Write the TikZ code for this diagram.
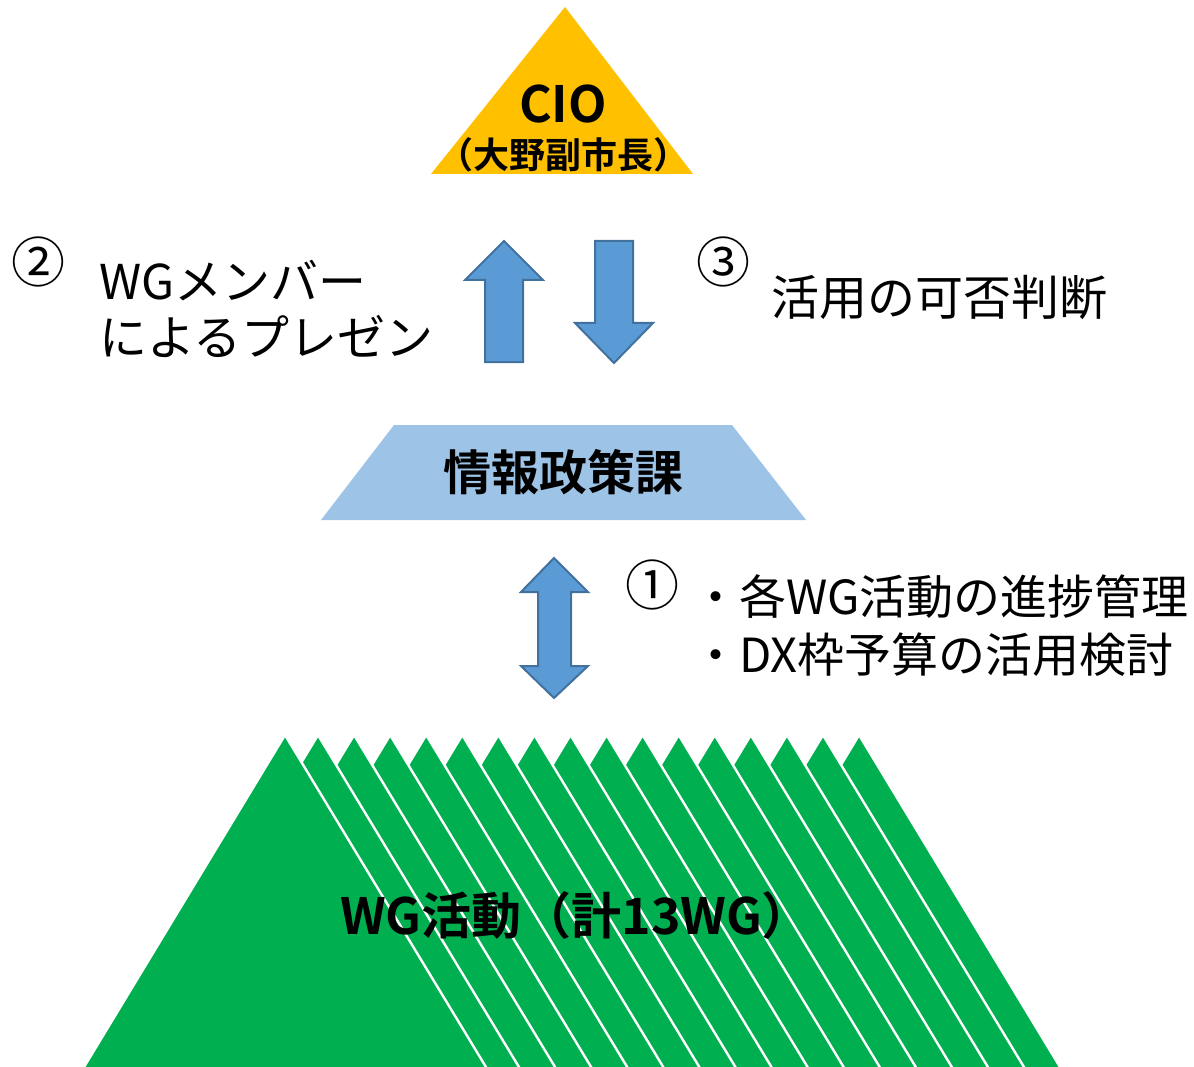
\documentclass[tikz,border=0pt]{standalone}
\usepackage{fontspec}
\setmainfont{Noto Sans CJK JP}[BoldFont={Noto Sans CJK JP Bold}]
\definecolor{cioyellow}{HTML}{FFC000}
\definecolor{arrowfill}{HTML}{5B9BD5}
\definecolor{arrowline}{HTML}{41719C}
\definecolor{deptblue}{HTML}{9DC3E6}
\definecolor{wggreen}{HTML}{00B050}
\begin{document}
\begin{tikzpicture}[x=1pt,y=-1pt,
  blockarrow/.style={fill=arrowfill,draw=arrowline,line width=2pt,line join=miter},
  wgtri/.style={fill=wggreen,draw=white,line width=2.4pt},
  sidetext/.style={anchor=west,inner sep=0pt,font=\fontsize{48}{52}\selectfont},
  listtext/.style={anchor=west,inner sep=0pt,font=\fontsize{47}{51}\selectfont},
  numtext/.style={inner sep=0pt,font=\fontsize{54}{58}\selectfont},
  titletext/.style={inner sep=0pt,font=\bfseries\fontsize{48}{52}\selectfont}]
\useasboundingbox (0,0) rectangle (1194,1067);
% CIO triangle
\fill[cioyellow] (565,7) -- (693,174) -- (431,174) -- cycle;
\node[inner sep=0pt,font=\bfseries\fontsize{50}{54}\selectfont] (cio) at (563,104) {CIO};
\node[inner sep=0pt,font=\bfseries\fontsize{36}{40}\selectfont] (cioname) at (563,155) {（大野副市長）};
% up / down arrows
\draw[blockarrow] (504,241) -- (543,280) -- (523,280) -- (523,362) -- (485,362) -- (485,280) -- (465,280) -- cycle;
\draw[blockarrow] (614,363) -- (653,323) -- (633,323) -- (633,241) -- (595,241) -- (595,323) -- (575,323) -- cycle;
% department trapezoid
\fill[deptblue] (394,425) -- (732,425) -- (806,520) -- (321,520) -- cycle;
\node[titletext] (dept) at (563,472) {情報政策課};
% double arrow
\draw[blockarrow] (554,558) -- (588,592) -- (571,592) -- (571,666) -- (588,666) -- (554,698)
  -- (521,666) -- (538,666) -- (538,592) -- (521,592) -- cycle;
% green WG triangles
\foreach \k in {15,14,...,0}{
  \pgfmathsetmacro{\ax}{318+36.07*\k}
  \draw[wgtri] (\ax,735) -- (\ax+205.8,1075) -- (\ax-205.8,1075) -- cycle;
}
\draw[wgtri] (285,735) -- (490.8,1075) -- (79.2,1075) -- cycle;
\node[inner sep=0pt,font=\bfseries\fontsize{50}{54}\selectfont] (wg) at (576,915) {WG活動（計13WG）};
% side texts
\node[numtext] (n2) at (38,262) {②};
\node[sidetext] (t2a) at (99,281) {WGメンバー};
\node[sidetext] (t2b) at (99,337) {によるプレゼン};
\node[numtext] (n3) at (723,262) {③};
\node[sidetext] (t3) at (771,298) {活用の可否判断};
\node[numtext] (n1) at (652,585) {①};
\node[listtext] (t1a) at (692,597) {・各WG活動の進捗管理};
\node[listtext] (t1b) at (692,655) {・DX枠予算の活用検討};
\end{tikzpicture}
\end{document}
